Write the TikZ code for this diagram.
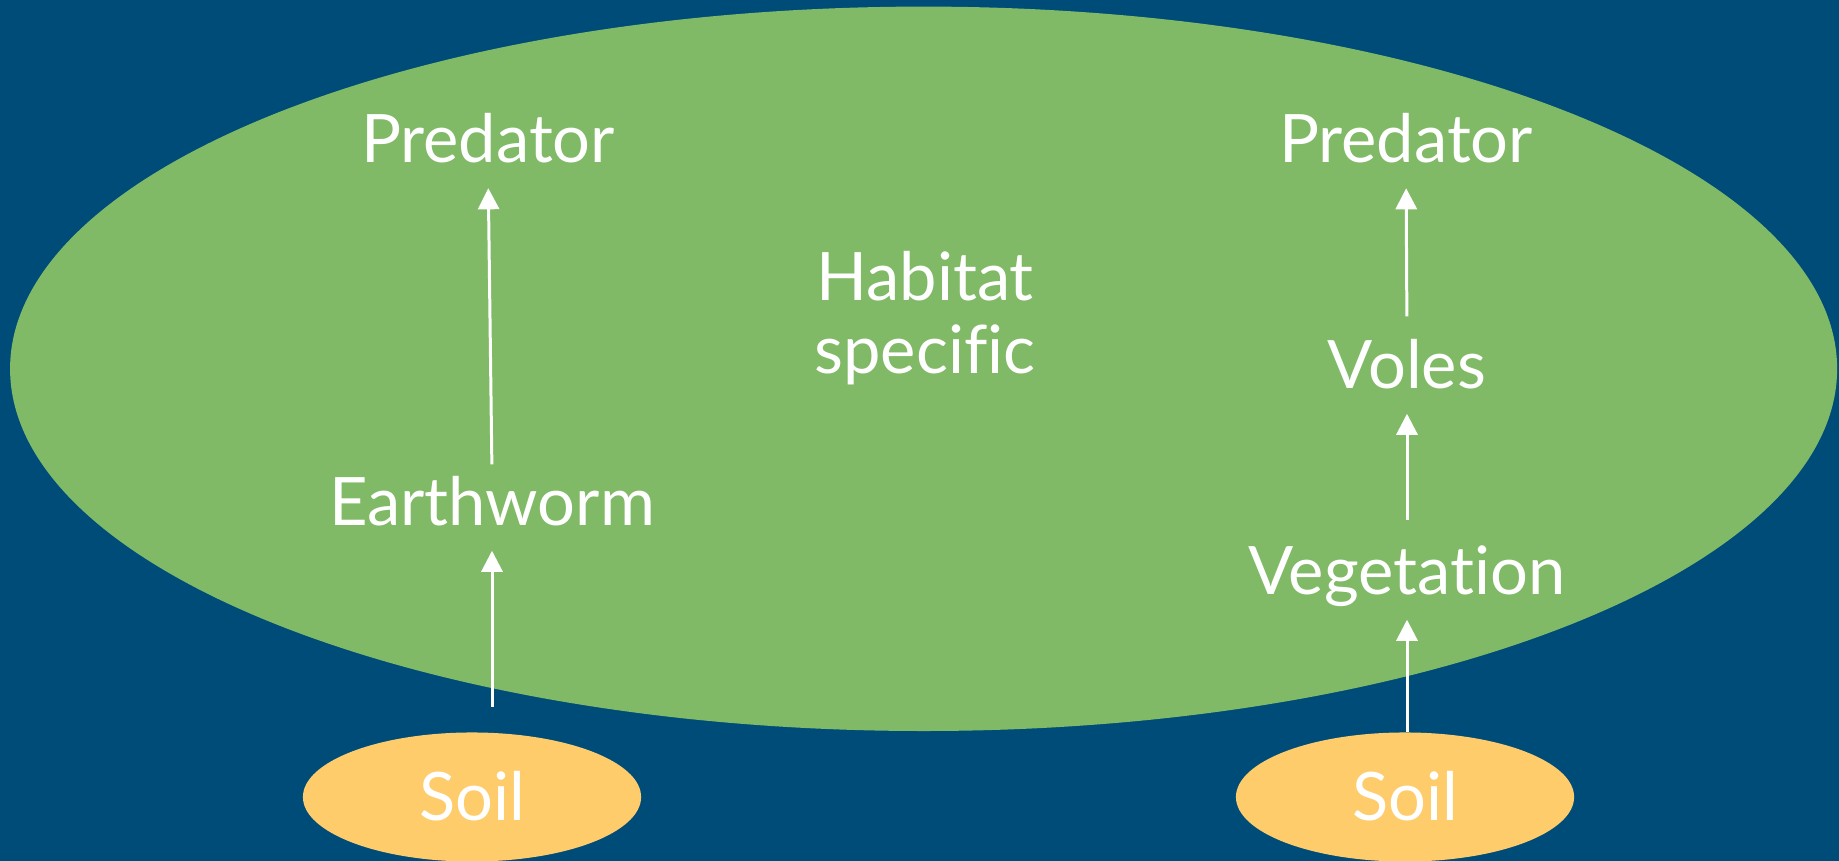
\documentclass[tikz,border=0pt]{standalone}
\usepackage{fontspec}
\setmainfont[Ligatures=NoCommon]{Lato}
\usetikzlibrary{shapes.geometric,arrows.meta}
\definecolor{bgblue}{RGB}{0,76,121}
\definecolor{habgreen}{RGB}{128,186,102}
\definecolor{soilyellow}{RGB}{254,204,106}
\begin{document}
\begin{tikzpicture}[x=0.01cm,y=-0.01cm,
  lbl/.style={text=white,inner sep=0pt,text height=0.5cm,text depth=0pt,font=\fontsize{19}{21}\selectfont},
  soil/.style={ellipse,fill=soilyellow,minimum width=3.38cm,minimum height=1.29cm,inner sep=0pt,
    text=white,text height=0.47cm,text depth=0pt,font=\fontsize{19}{21}\selectfont},
  link/.style={draw,white,line width=0.85pt,shorten >=0.25cm,-{Triangle[width=6pt,length=6pt]}}]
\useasboundingbox (0,0) rectangle (1839,861);
\fill[bgblue] (0,0) rectangle (1839,861);
\fill[habgreen] (923.6,368.8) ellipse [x radius=9.13cm, y radius=3.62cm];
\node[soil] (s1) at (472,797) {Soil};
\node[soil] (s2) at (1405,797) {Soil};
\node[lbl] (ew) at (492,500) {Earthworm};
\node[lbl] (pl) at (488,137.5) {Predator};
\node[lbl] (veg) at (1407,569) {Vegetation};
\node[lbl] (vol) at (1407,363) {Voles};
\node[lbl] (pr) at (1406,137.5) {Predator};
\node[text=white,inner sep=0pt,align=center,font=\fontsize{19}{20.8}\selectfont] (hab) at (925,318) {Habitat\\specific};
\path[link,shorten <=0.25cm] (ew |- s1.north) -- (ew.south);
\path[link,shorten <=0.1cm] (ew.north) -- (pl.south);
\path[link] (veg |- s2.north) -- (veg.south);
\path[link,shorten <=0.23cm] (veg.north) -- (vol.south);
\path[link,shorten <=0.21cm] (vol.north) -- (pr.south);
\end{tikzpicture}
\end{document}
